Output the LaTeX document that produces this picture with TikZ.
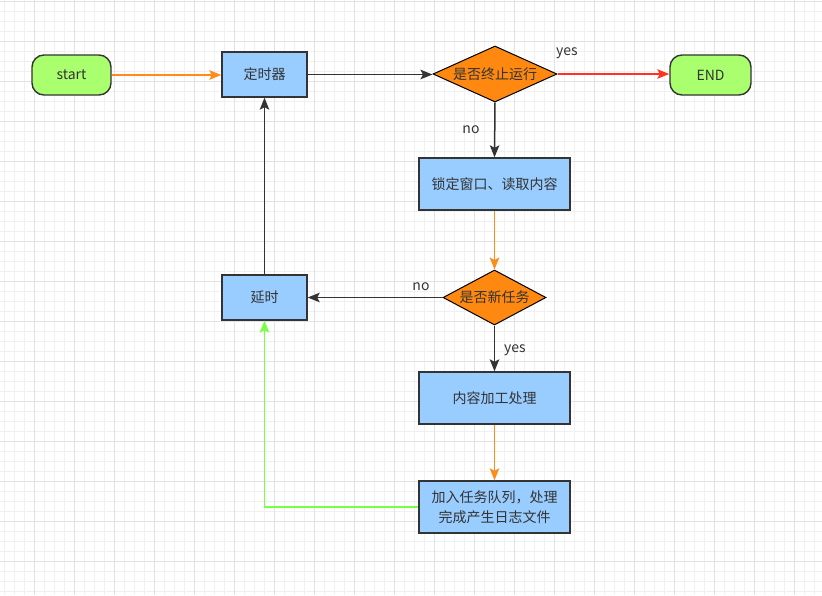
\documentclass[tikz,border=0pt]{standalone}
\usepackage{fontspec}
\setmainfont{Noto Sans CJK SC}
\usetikzlibrary{shapes.geometric,arrows.meta}
\definecolor{txt}{HTML}{333333}
\definecolor{gfill}{HTML}{AAFF6E}
\definecolor{bfill}{HTML}{99CCFF}
\definecolor{ofill}{HTML}{FF8811}
\definecolor{oline}{HTML}{FF8C1A}
\definecolor{rline}{HTML}{FF3322}
\definecolor{gline}{HTML}{77FF44}
\definecolor{dline}{HTML}{333333}
\definecolor{gridminor}{HTML}{F0F0F0}
\definecolor{gridmajor}{HTML}{E2E2E2}
\tikzset{
  base/.style={draw=dline, line width=1.4pt, text=txt, font=\fontsize{14}{16}\selectfont, inner sep=0pt},
  term/.style={base, fill=gfill, rounded corners=12pt, minimum width=79pt, minimum height=40pt},
  proc/.style={base, fill=bfill, minimum width=85pt, minimum height=45pt},
  wproc/.style={base, fill=bfill, minimum width=151pt, minimum height=52pt, align=center},
  dec/.style={base, fill=ofill, diamond, line width=1pt, draw=black},
  conn/.style={line width=1.5pt, -{Stealth[length=12pt,width=9.5pt,inset=2.5pt]}},
  lbl/.style={text=txt, font=\fontsize{14}{16}\selectfont, inner sep=0pt}
}
\begin{document}
\begin{tikzpicture}[x=1pt,y=-1pt]
\useasboundingbox (0,0) rectangle (822,595);
\fill[white] (0,0) rectangle (822,595);
\foreach \i in {0,...,81} {\draw[gridminor, line width=0.8pt] (4+10*\i,0) -- (4+10*\i,595);}
\foreach \j in {0,...,59} {\draw[gridminor, line width=0.8pt] (0,1.7+10*\j) -- (822,1.7+10*\j);}
\foreach \i in {0,...,19} {\draw[gridmajor, line width=0.8pt] (34+40*\i,0) -- (34+40*\i,595);}
\foreach \j in {0,...,14} {\draw[gridmajor, line width=0.8pt] (0,1.7+40*\j) -- (822,1.7+40*\j);}

\node[term] (start) at (71.5,75) {start};
\node[proc] (timer) at (264.5,74.5) {定时器};
\node[dec, minimum width=124pt, minimum height=56pt, aspect=2.2] (stop) at (495,74) {是否终止运行};
\node[term, minimum width=81pt] (end) at (710.5,75) {END};
\node[wproc] (lock) at (494.5,184) {锁定窗口、读取内容};
\node[dec, minimum width=103pt, minimum height=55pt, aspect=1.87] (newt) at (494.5,297.5) {是否新任务};
\node[proc] (delay) at (264.5,297.5) {延时};
\node[wproc] (work) at (494.5,398) {内容加工处理};
\node[wproc, font=\fontsize{14}{20}\selectfont] (queue) at (494.5,507) {加入任务队列，处理\\完成产生日志文件};

\coordinate (corner) at (delay.south |- queue.west);

\draw[conn, draw=oline] (start.east) -- (start.east -| timer.west);
\draw[conn, draw=dline] (timer.east) -- (stop.west |- timer.east);
\draw[conn, draw=rline] (stop.east) -- (stop.east -| end.west);
\draw[conn, draw=dline] (stop.south) -- (lock.north);
\draw[conn, draw=oline] (lock.south) -- (newt.north);
\draw[conn, draw=dline] (newt.west) -- (newt.west -| delay.east);
\draw[conn, draw=dline] (newt.south) -- (work.north);
\draw[conn, draw=oline] (work.south) -- (queue.north);
\draw[conn, draw=gline] (queue.west) -- (corner) -- (delay.south);
\draw[conn, draw=dline] (delay.north) -- (timer.south);

\node[lbl] (l1) at (567,53.5) {yes};
\node[lbl] (l2) at (471,130) {no};
\node[lbl] (l3) at (421,287) {no};
\node[lbl] (l4) at (515,350) {yes};
\end{tikzpicture}
\end{document}
